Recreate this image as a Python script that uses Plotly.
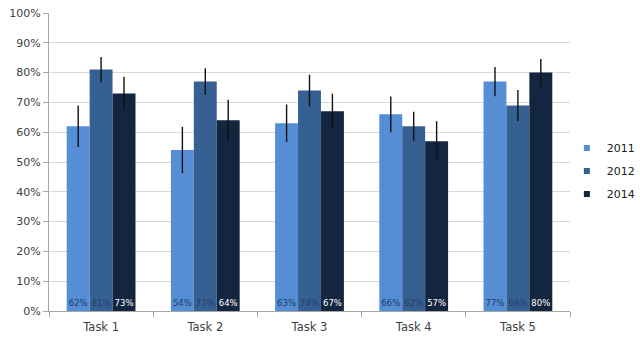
import plotly.graph_objects as go

tasks = ["Task 1", "Task 2", "Task 3", "Task 4", "Task 5"]
years = ["2011", "2012", "2014"]
scores = {
    "2011": [62, 54, 63, 66, 77],
    "2012": [81, 77, 74, 62, 69],
    "2014": [73, 64, 67, 57, 80],
}
margins = {
    "2011": [7.0, 7.8, 6.3, 6.0, 4.9],
    "2012": [4.2, 4.5, 5.3, 4.9, 5.2],
    "2014": [5.6, 6.9, 5.9, 6.7, 4.6],
}
colors = {"2011": "#558ed5", "2012": "#376092", "2014": "#13253f"}
label_colors = {"2011": "#1f3b66", "2012": "#203f6a", "2014": "#ffffff"}

FONT = "DejaVu Sans, sans-serif"

fig = go.Figure()
for y in years:
    fig.add_trace(go.Bar(
        name=y,
        x=tasks,
        y=[v / 100 for v in scores[y]],
        marker=dict(color=colors[y], line=dict(width=0)),
        error_y=dict(type="data", array=[e / 100 for e in margins[y]],
                     color="#111111", thickness=1.4, width=0),
        text=[f"{v}%" for v in scores[y]],
        textposition="inside",
        insidetextanchor="start",
        textangle=0,
        textfont=dict(family=FONT, size=8.5, color=label_colors[y]),
        cliponaxis=False,
        showlegend=False,
    ))

# small square swatches for the legend
for y in years:
    fig.add_trace(go.Scatter(
        name=y, x=[None], y=[None], mode="markers",
        marker=dict(symbol="square", size=6, color=colors[y]),
        legendgroup=y, showlegend=True,
    ))

fig.update_layout(
    width=640, height=342,
    margin=dict(l=49, r=70, t=13, b=31, autoexpand=False),
    paper_bgcolor="white", plot_bgcolor="white",
    barmode="group", bargap=0.34, bargroupgap=0,
    uniformtext=dict(minsize=8, mode="show"),
    font=dict(family=FONT, size=11, color="#404040"),
    legend=dict(x=0.994, y=0.47, xanchor="left", yanchor="middle",
                font=dict(size=11, color="#202020"),
                itemwidth=30, tracegroupgap=4, bgcolor="rgba(0,0,0,0)"),
    showlegend=True,
)
fig.update_xaxes(
    type="category", showline=True, linecolor="#a6a6a6", linewidth=1,
    ticks="outside", tickson="boundaries", ticklen=5, tickcolor="#a6a6a6",
    ticklabelstandoff=5,
    showgrid=False, tickfont=dict(size=11.5, color="#404040"),
)
fig.update_yaxes(
    range=[0, 1], dtick=0.1, tickformat=".0%",
    showline=True, linecolor="#a6a6a6", linewidth=1,
    ticks="outside", ticklen=5, tickcolor="#a6a6a6",
    showgrid=True, gridcolor="#d9d9d9", gridwidth=1,
    zeroline=False, tickfont=dict(size=11, color="#404040"),
)

fig.write_html("out.html")
